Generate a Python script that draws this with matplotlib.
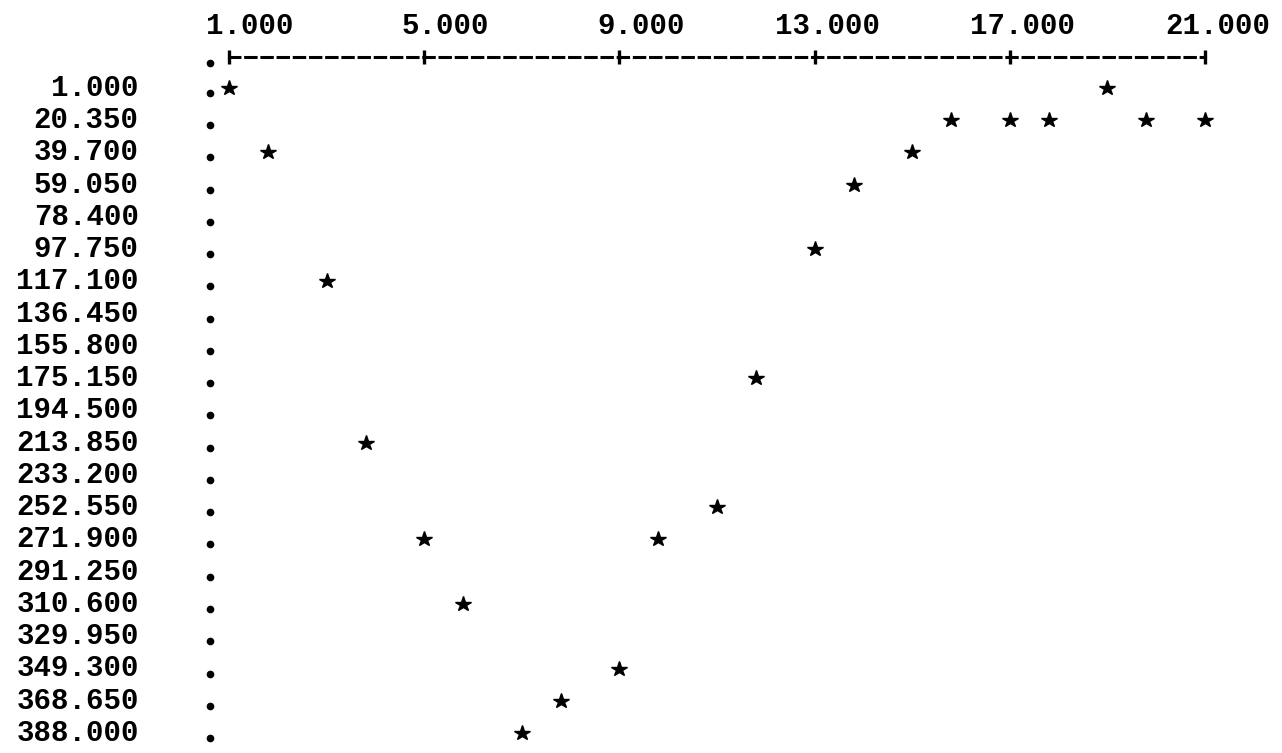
import matplotlib.pyplot as plt
import matplotlib.transforms as mtransforms

# values as printed on the line-printer plot
x = [1.0, 1.8, 3.0, 3.8, 5.0, 5.8, 7.0, 7.8, 9.0, 9.8, 11.0,
     11.8, 13.0, 13.8, 15.0, 15.8, 17.0, 17.8, 19.0, 19.8, 21.0]
y = [1.0, 39.7, 117.1, 213.85, 271.9, 310.6, 388.0, 368.65, 349.3, 271.9, 252.55,
     175.15, 97.75, 59.05, 39.7, 20.35, 20.35, 20.35, 1.0, 20.35, 20.35]

xticks = [1, 5, 9, 13, 17, 21]
xlabels = ['1.000', '5.000', '9.000', '13.000', '17.000', '21.000']
yrows = [1.0, 20.35, 39.7, 59.05, 78.4, 97.75, 117.1, 136.45, 155.8, 175.15, 194.5,
         213.85, 233.2, 252.55, 271.9, 291.25, 310.6, 329.95, 349.3, 368.65, 388.0]
ylabels = ['1.000', '20.350', '39.700', '59.050', '78.400', '97.750', '117.100',
           '136.450', '155.800', '175.150', '194.500', '213.850', '233.200',
           '252.550', '271.900', '291.250', '310.600', '329.950', '349.300',
           '368.650', '388.000']

font = dict(family='Liberation Mono', weight='bold', size=21)

fig = plt.figure(figsize=(12.82, 7.53), dpi=100)
ax = fig.add_axes([229/1282, 1 - 733/753, 976/1282, 645/753])
ax.set_xlim(1, 21)
ax.set_ylim(388, 1)

for s in ['left', 'right', 'bottom']:
    ax.spines[s].set_visible(False)
ax.spines['top'].set_position(('outward', 22.3))
ax.spines['top'].set_linewidth(2.2)
ax.spines['top'].set_linestyle((0, (3.4, 1.9)))

ax.xaxis.tick_top()
ax.set_xticks(xticks)
ax.set_xticklabels(xlabels, fontdict=font)
ax.tick_params(axis='x', direction='inout', length=10, width=2.4, pad=7)
shift = mtransforms.ScaledTranslation(0.65, 0, fig.dpi_scale_trans)
for lab in ax.get_xticklabels():
    lab.set_horizontalalignment('right')
    lab.set_transform(lab.get_transform() + shift)

ax.set_yticks(yrows)
ax.set_yticklabels(ylabels, fontdict=font, va='center')
ax.tick_params(axis='y', length=0, pad=65)

# column of dots marking the left edge
dots = mtransforms.offset_copy(ax.transData, fig=fig, x=-19, y=-5, units='dots')
ax.plot([1] * len(yrows), yrows, 'o', ms=4.5, color='k', transform=dots, clip_on=False)
top = mtransforms.offset_copy(ax.transData, fig=fig, x=-19, y=25, units='dots')
ax.plot([1], [1], 'o', ms=4.5, color='k', transform=top, clip_on=False)

ax.plot(x, y, '*', ls='none', ms=11.5, color='k', clip_on=False)

fig.savefig('out.png', dpi=100, facecolor='white')
